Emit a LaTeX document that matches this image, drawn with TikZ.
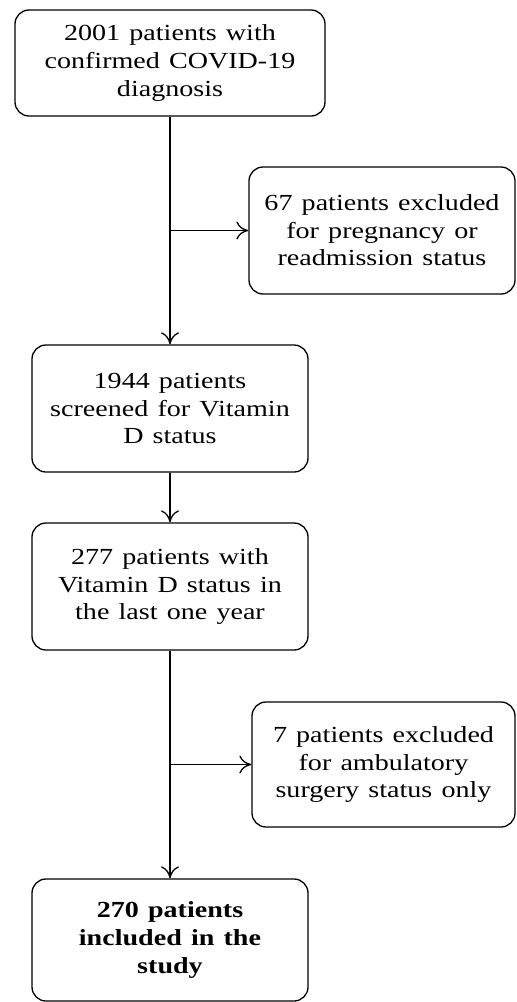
\documentclass[tikz,border=0pt]{standalone}
\usepackage{fontspec}
\setmainfont[FakeStretch=1.22]{Liberation Serif}
\usetikzlibrary{arrows.meta}
\newcommand{\flowfont}{\fontsize{11.5pt}{13.8pt}\selectfont\spaceskip=0.4em\relax}
\begin{document}
\begin{tikzpicture}[line width=0.65pt, >={To[length=6pt,width=9pt]},
    box node/.style={draw, rounded corners=7pt, align=center, inner sep=2pt, font=\flowfont}]
    \useasboundingbox (0pt,0pt) rectangle (258pt,-501pt);

    \node[box node, minimum width=155pt, minimum height=53pt] at (85pt, -31.5pt) (a) {2001 patients with\\confirmed COVID-19\\diagnosis};
    \node[box node, minimum width=133pt, minimum height=63.5pt] at (191pt, -115.25pt) (b) {67 patients excluded\\for pregnancy or\\readmission status};
    \node[box node, minimum width=138pt, minimum height=63.5pt] at (85pt, -204.25pt) (c) {1944 patients\\screened for Vitamin\\D status};
    \node[box node, minimum width=138pt, minimum height=63.5pt] at (85pt, -293.25pt) (d) {277 patients with\\Vitamin D status in\\the last one year};
    \node[box node, minimum width=131.5pt, minimum height=62.5pt] at (191.75pt, -382.25pt) (e) {7 patients excluded\\for ambulatory\\surgery status only};
    \node[box node, minimum width=138pt, minimum height=61pt] at (85pt, -470pt) (f) {\textbf{270 patients}\\\textbf{included in the}\\\textbf{study}};

    \coordinate (j1) at (85pt, -115.25pt);
    \coordinate (j2) at (85pt, -382.25pt);

    \path[->]
        (a) edge (c)
        (j1) edge (b)
        (c) edge (d)
        (d) edge (f)
        (j2) edge (e)
        ;
\end{tikzpicture}
\end{document}
